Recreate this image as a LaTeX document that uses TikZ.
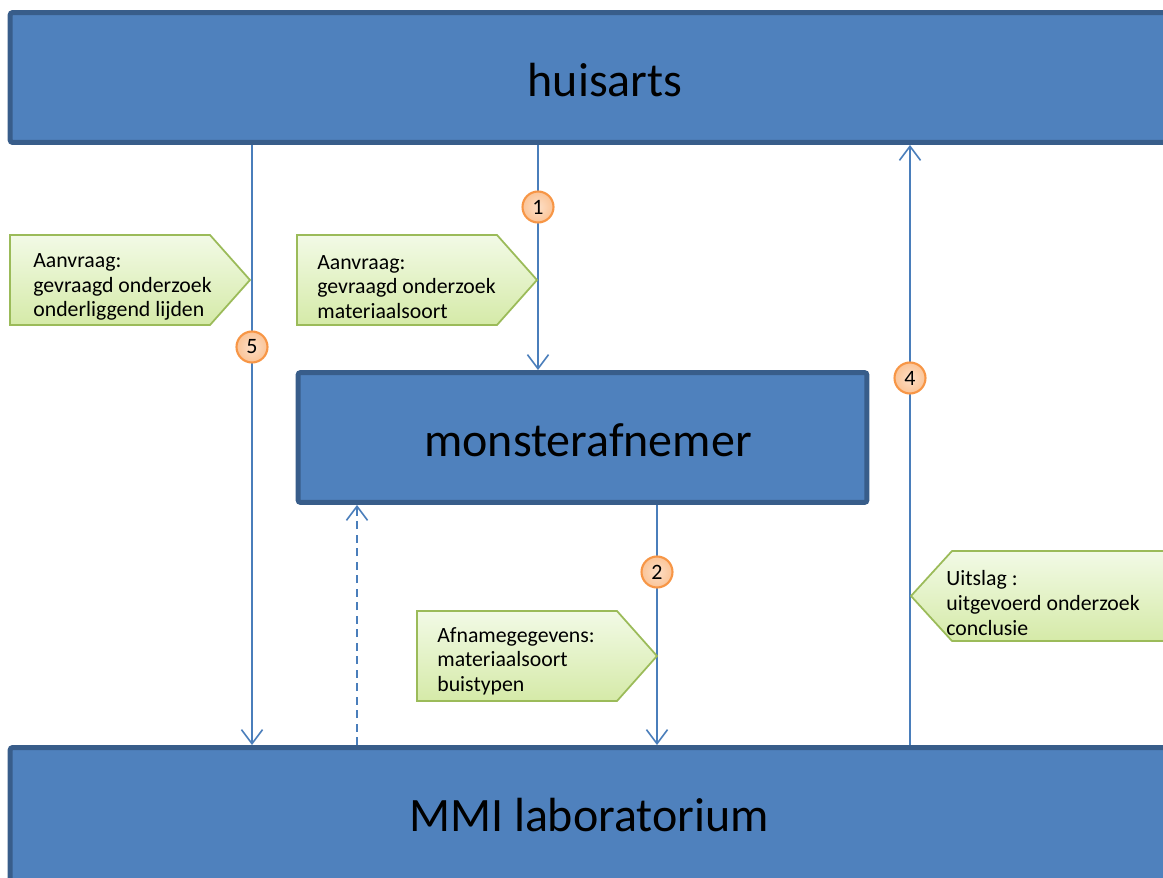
\documentclass[tikz,border=0pt]{standalone}
\usepackage{fontspec}
\setmainfont{Carlito}
\usetikzlibrary{arrows.meta}
\definecolor{boxfill}{HTML}{4F81BD}
\definecolor{boxline}{HTML}{385D8A}
\definecolor{conn}{HTML}{4A7EBB}
\definecolor{gline}{HTML}{9BBB59}
\definecolor{gtop}{HTML}{F2FAE6}
\definecolor{gbot}{HTML}{D5EAA8}
\definecolor{oline}{HTML}{F79646}
\definecolor{ofill}{HTML}{FBC9A0}
\tikzset{
  bigbox/.style={draw=boxline, fill=boxfill, line width=0.1cm, rounded corners=1.5pt, inner sep=0pt},
  bigtext/.style={font=\fontsize{27.3}{32}\selectfont, inner sep=0pt},
  conline/.style={draw=conn, line width=0.9pt, -{Straight Barb[length=8pt,width=12pt]}},
  callout/.style={draw=gline, line width=1pt, top color=gtop, bottom color=gbot},
  callouttext/.style={font=\fontsize{12.4}{14}\selectfont, align=left, inner sep=0pt, anchor=west},
  badge/.style={circle, draw=oline, line width=1.2pt, inner color=ofill!60!white, outer color=ofill!90!oline, minimum size=0.62cm, inner sep=0pt, font=\fontsize{12.5}{14}\selectfont}
}
\begin{document}
\begin{tikzpicture}[x=0.02cm, y=-0.02cm]
\useasboundingbox (0,0) rectangle (1163,878);
\clip (0,0) rectangle (1163,878);
% boxes
\node[bigbox, minimum width=23.8cm, minimum height=2.6cm] (top) at (605,77.5) {};
\node[bigtext] (toptext) at (605,80) {huisarts};
\node[bigbox, minimum width=11.38cm, minimum height=2.6cm] (mid) at (582.5,437.5) {};
\node[bigtext] (midtext) at (588,440) {monsterafnemer};
\node[bigbox, minimum width=23.8cm, minimum height=3.1cm] (bot) at (605,825) {};
\node[bigtext] (bottext) at (589,815) {MMI laboratorium};
% x positions
\coordinate (x5) at (252,0);
\coordinate (x1) at (538,0);
\coordinate (x2) at (657,0);
\coordinate (x4) at (910,0);
\coordinate (xd) at (357,0);
% connectors
\draw[conline] (x5 |- top.south) -- (x5 |- bot.north);
\draw[conline] (x1 |- top.south) -- (x1 |- mid.north);
\draw[conline] (x2 |- mid.south) -- (x2 |- bot.north);
\draw[conline] (x4 |- bot.north) -- (x4 |- top.south);
\draw[conline, dash pattern=on 0.16cm off 0.11cm] (xd |- bot.north) -- (xd |- mid.south);
% callouts
\path[callout] (10,235) -- (210,235) -- (250,280) -- (210,325) -- (10,325) -- cycle;
\node[callouttext] (c5) at (33,287) {Aanvraag:\\gevraagd onderzoek\\onderliggend lijden};
\path[callout] (297,235) -- (497,235) -- (537,280) -- (497,325) -- (297,325) -- cycle;
\node[callouttext] (c1) at (317,287) {Aanvraag:\\gevraagd onderzoek\\materiaalsoort};
\path[callout] (417,611) -- (617,611) -- (657,656) -- (617,701) -- (417,701) -- cycle;
\node[callouttext] (c2) at (437,661) {Afnamegegevens:\\materiaalsoort\\buistypen};
\path[callout] (1180,551) -- (952,551) -- (911,596) -- (952,641) -- (1180,641) -- cycle;
\node[callouttext] (c4) at (946,603) {Uitslag :\\uitgevoerd onderzoek\\conclusie};
% badges
\node[badge] (b1) at (538,207) {1};
\node[badge] (b2) at (657,572) {2};
\node[badge] (b4) at (910,378) {4};
\node[badge] (b5) at (252,347) {5};
\end{tikzpicture}
\end{document}
